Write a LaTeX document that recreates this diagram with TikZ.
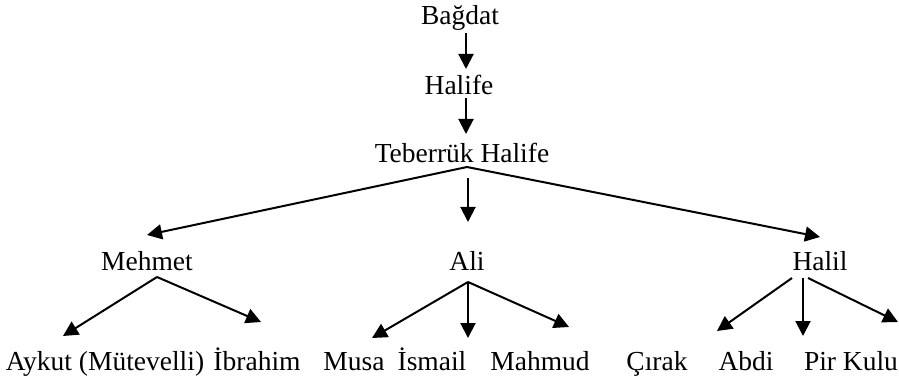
\documentclass[tikz,border=0pt]{standalone}
\usepackage{fontspec}
\setmainfont{Liberation Serif}
\usetikzlibrary{arrows.meta}
\begin{document}
\begin{tikzpicture}[x=1pt,y=-1pt,
  lbl/.style={anchor=base,inner sep=0pt,font=\fontsize{27.5}{30}\selectfont},
  arr/.style={line width=2pt,-{Triangle[length=15pt,width=15pt]}}]
\useasboundingbox (0,0) rectangle (899,382);
% labels
\node[lbl] (bagdat) at (460,25) {Bağdat};
\node[lbl] (halife) at (459,95) {Halife};
\node[lbl] (teberruk) at (462,163) {Teberrük Halife};
\node[lbl] (mehmet) at (147,270) {Mehmet};
\node[lbl] (ali) at (467,270) {Ali};
\node[lbl] (halil) at (820,270) {Halil};
\node[lbl] (aykut) at (105,370) {Aykut (Mütevelli)};
\node[lbl] (ibrahim) at (257,370) {İbrahim};
\node[lbl] (musa) at (354,370) {Musa};
\node[lbl] (ismail) at (432,370) {İsmail};
\node[lbl] (mahmud) at (540,370) {Mahmud};
\node[lbl] (cirak) at (657,370) {Çırak};
\node[lbl] (abdi) at (746,370) {Abdi};
\node[lbl] (pirkulu) at (851,370) {Pir Kulu};
% connector ends
\coordinate (b0) at (466,33);  \coordinate (b1) at (466,69);
\coordinate (h0) at (466,98);  \coordinate (h1) at (466,134);
\coordinate (t0) at (467,167); \coordinate (t1) at (468,178); \coordinate (t2) at (468,222);
\coordinate (mtip) at (147,235); \coordinate (htip) at (820,237);
\coordinate (m0) at (157,277);
\coordinate (aytip) at (63,336); \coordinate (ibtip) at (261,322);
\coordinate (a0) at (468,282);
\coordinate (mutip) at (372,338); \coordinate (istip) at (468,338); \coordinate (mhtip) at (569,327);
\coordinate (c0) at (792,278); \coordinate (d0) at (803,278); \coordinate (p0) at (808,278);
\coordinate (citip) at (717,331); \coordinate (abtip) at (803,336); \coordinate (pktip) at (898,322);
% connectors
\draw[arr] (b0) -- (b1);
\draw[arr] (h0) -- (h1);
\draw[arr] (t0) -- (mtip);
\draw[arr] (t0) -- (htip);
\draw[arr] (t1) -- (t2);
\draw[arr] (m0) -- (aytip);
\draw[arr] (m0) -- (ibtip);
\draw[arr] (a0) -- (mutip);
\draw[arr] (a0) -- (istip);
\draw[arr] (a0) -- (mhtip);
\draw[arr] (c0) -- (citip);
\draw[arr] (d0) -- (abtip);
\draw[arr] (p0) -- (pktip);
\end{tikzpicture}
\end{document}
